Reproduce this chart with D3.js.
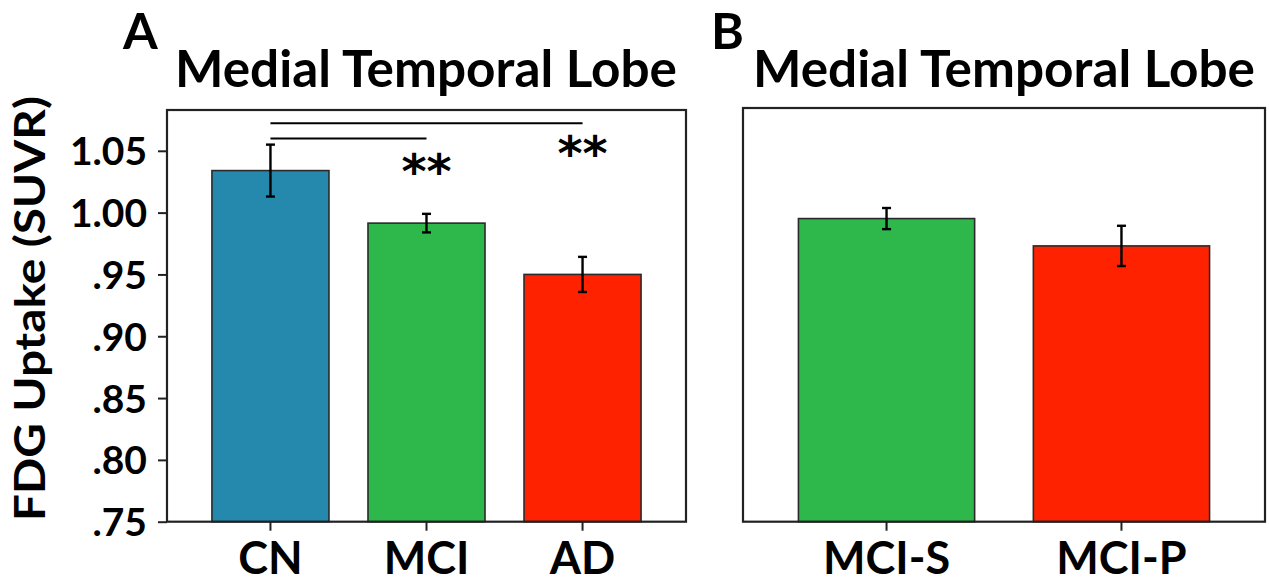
<!DOCTYPE html>
<html><head><meta charset="utf-8">
<script src="https://cdn.jsdelivr.net/npm/d3@7/dist/d3.min.js"></script>
<style>
html,body{margin:0;padding:0;background:#fff;}
svg{display:block;}
text{font-family:Lato,"Open Sans",sans-serif;font-weight:bold;fill:#000;}
</style></head>
<body>
<svg id="chart" width="1269" height="583"></svg>
<script>
// ---- data ----
const groupsA = ["CN", "MCI", "AD"];
const meansA = [1.034, 0.9915, 0.950];
const errsA = [0.021, 0.0075, 0.0142];
const colorsA = ["#2489ad", "#2eb84b", "#ff2200"];

const groupsB = ["MCI-S", "MCI-P"];
const meansB = [0.994, 0.972];
const errsB = [0.0085, 0.0162];
const colorsB = ["#2eb84b", "#ff2200"];

const yTicks = [0.75, 0.80, 0.85, 0.90, 0.95, 1.00, 1.05];
const yTickLabels = [".75", ".80", ".85", ".90", ".95", "1.00", "1.05"];
const yDomain = [0.75, 1.083];

const sigFrom = ["CN", "CN"];
const sigTo = ["MCI", "AD"];
const sigLineY = [1.0599, 1.0723];
const sigStarY = [1.0429, 1.0568];
const sigLabel = ["**", "**"];

const panelLetters = ["A", "B"];
const panelTitle = "Medial Temporal Lobe";
const yLabel = "FDG Uptake (SUVR)";

// ---- drawing ----
const svg = d3.select("#chart");

function drawPanel(cfg) {
  const g = svg.append("g");
  const x = d3.scaleBand().domain(cfg.groups).range([cfg.left, cfg.right])
    .paddingInner(0.25).paddingOuter(cfg.po);
  const y = d3.scaleLinear().domain(yDomain).range([cfg.bottom, cfg.top]);

  // bars
  g.selectAll("rect.bar").data(cfg.groups).join("rect")
    .attr("class", "bar")
    .attr("x", d => x(d)).attr("width", x.bandwidth())
    .attr("y", (d, i) => y(cfg.means[i]))
    .attr("height", (d, i) => y(yDomain[0]) - y(cfg.means[i]))
    .attr("fill", (d, i) => cfg.colors[i])
    .attr("stroke", "#2a2a2a").attr("stroke-width", 1.6);

  // error bars
  const eb = g.selectAll("g.err").data(cfg.groups).join("g").attr("class", "err")
    .attr("stroke", "#000").attr("stroke-width", 2.4);
  const cx = d => x(d) + x.bandwidth() / 2;
  eb.append("line").attr("x1", cx).attr("x2", cx)
    .attr("y1", (d, i) => y(cfg.means[i] + cfg.errs[i]))
    .attr("y2", (d, i) => y(cfg.means[i] - cfg.errs[i]));
  eb.append("line").attr("x1", d => cx(d) - 4.5).attr("x2", d => cx(d) + 4.5)
    .attr("y1", (d, i) => y(cfg.means[i] + cfg.errs[i]))
    .attr("y2", (d, i) => y(cfg.means[i] + cfg.errs[i]));
  eb.append("line").attr("x1", d => cx(d) - 4.5).attr("x2", d => cx(d) + 4.5)
    .attr("y1", (d, i) => y(cfg.means[i] - cfg.errs[i]))
    .attr("y2", (d, i) => y(cfg.means[i] - cfg.errs[i]));

  // x axis
  const xa = g.append("g").attr("transform", `translate(0,${cfg.bottom})`)
    .call(d3.axisBottom(x).tickSize(9).tickSizeOuter(0));
  xa.select(".domain").remove();
  xa.selectAll(".tick line").attr("stroke", "#222").attr("stroke-width", 2);
  xa.selectAll(".tick text").attr("y", 0).attr("dy", null)
    .attr("transform", "translate(0,52)")
    .style("font-family", "Lato").style("font-weight", "bold")
    .style("font-size", "45px").attr("fill", "#000");

  // y axis
  if (cfg.showY) {
    const ya = g.append("g").attr("transform", `translate(${cfg.left},0)`)
      .call(d3.axisLeft(y).tickValues(yTicks).tickFormat((d, i) => yTickLabels[i])
        .tickSize(9).tickPadding(11).tickSizeOuter(0));
    ya.select(".domain").remove();
    ya.selectAll(".tick line").attr("stroke", "#222").attr("stroke-width", 2);
    ya.selectAll(".tick text").attr("dy", "0.36em")
      .style("font-family", "Lato").style("font-weight", "bold")
      .style("font-size", "39px").attr("fill", "#000");
  }

  // frame
  g.append("rect").attr("x", cfg.left).attr("y", cfg.top)
    .attr("width", cfg.right - cfg.left).attr("height", cfg.bottom - cfg.top)
    .attr("fill", "none").attr("stroke", "#222").attr("stroke-width", 2.2);

  // title
  g.append("text").attr("x", cfg.titleX).attr("y", 86.7)
    .attr("textLength", cfg.titleW).attr("lengthAdjust", "spacingAndGlyphs")
    .style("font-size", "51px").text(panelTitle);
  g.append("text").attr("x", cfg.letterX).attr("y", 49)
    .style("font-size", "50px").text(cfg.letter);

  return {x, y, g};
}

const A = drawPanel({groups: groupsA, means: meansA, errs: errsA, colors: colorsA,
  left: 167, right: 686, top: 110, bottom: 521.7, po: 0.288, showY: true,
  titleX: 175, titleW: 502, letterX: 123, letter: panelLetters[0]});

const B = drawPanel({groups: groupsB, means: meansB, errs: errsB, colors: colorsB,
  left: 743, right: 1265, top: 108, bottom: 521.7, po: 0.236, showY: false,
  titleX: 753, titleW: 502, letterX: 711, letter: panelLetters[1]});

// significance annotations (panel A)
const cxA = d => A.x(d) + A.x.bandwidth() / 2;
sigFrom.forEach((f, i) => {
  A.g.append("line")
    .attr("x1", cxA(f)).attr("x2", cxA(sigTo[i]))
    .attr("y1", A.y(sigLineY[i])).attr("y2", A.y(sigLineY[i]))
    .attr("stroke", "#000").attr("stroke-width", 2);
  A.g.append("text")
    .attr("x", cxA(sigTo[i])).attr("y", A.y(sigStarY[i]) + 28)
    .attr("text-anchor", "middle")
    .style("font-family", "'DejaVu Sans'").style("font-weight", "bold")
    .style("font-size", "48px").text(sigLabel[i]);
});

// y label
svg.append("text")
  .attr("transform", "translate(45,308.5) rotate(-90)")
  .attr("text-anchor", "middle")
  .attr("textLength", 425).attr("lengthAdjust", "spacingAndGlyphs")
  .style("font-size", "42px").text(yLabel);
</script>
</body></html>
